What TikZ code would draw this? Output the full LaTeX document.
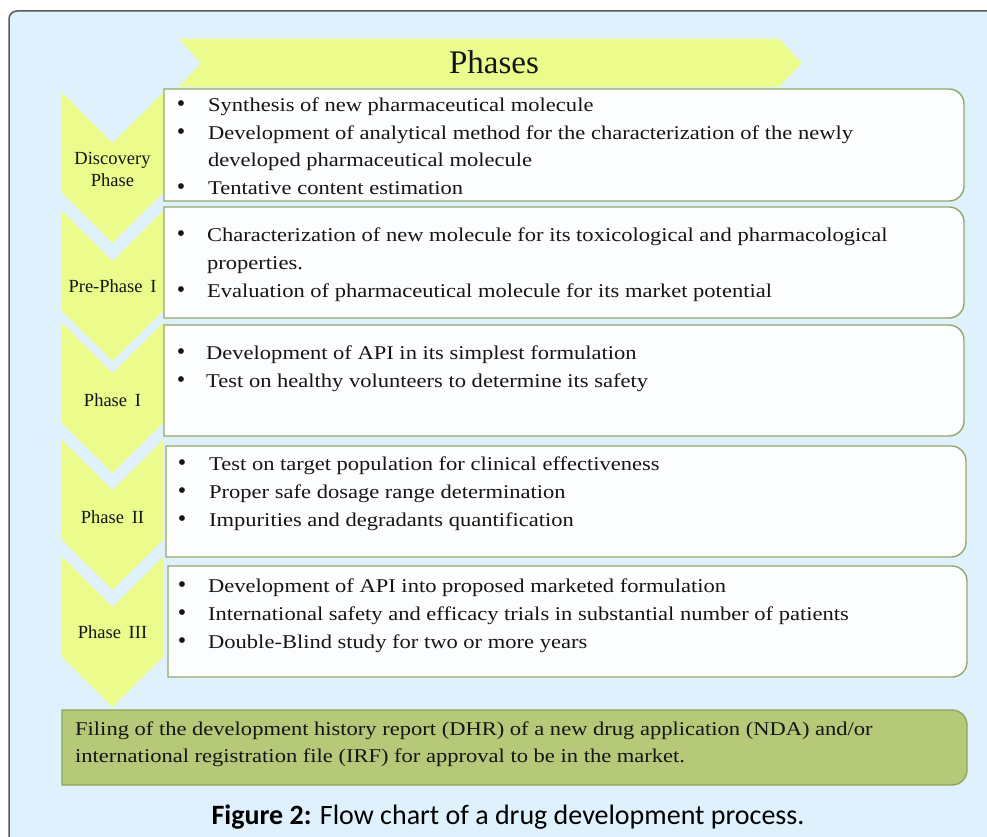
\documentclass[tikz,border=0pt]{standalone}
\usepackage{fontspec}
\setmainfont{Liberation Serif}
\newfontfamily\wideserif[FakeStretch=1.155]{Liberation Serif}
\newfontfamily\capfont{Carlito}
\definecolor{bgblue}{HTML}{DFF1FC}
\definecolor{chevy}{HTML}{EBFB8C}
\definecolor{boxline}{HTML}{93A866}
\definecolor{boxfill}{HTML}{FCFDFE}
\definecolor{finfill}{HTML}{B5C978}
\definecolor{finline}{HTML}{8FA45C}
\definecolor{framegray}{HTML}{5A5A5A}
\definecolor{inkc}{HTML}{151515}
\newcommand\myrbox[5]{\draw[#5] (#1,#2) -- ({#3-15},#2) arc[start angle=-90,end angle=0,radius=15] -- (#3,{#4-15}) arc[start angle=0,end angle=90,radius=15] -- (#1,#4) -- cycle;}
\newcommand\mychev[1]{\fill[chevy] (62,#1) -- (112.5,{#1+50}) -- (163,#1) -- (163,{#1+100}) -- (112.5,{#1+150}) -- (62,{#1+100}) -- cycle;}
\begin{document}
\begin{tikzpicture}[x=1pt,y=-1pt,
  txt/.style={anchor=base west,inner sep=0pt,text=inkc,font=\wideserif\fontsize{19.5}{23}\selectfont},
  lab/.style={anchor=base,inner sep=0pt,text=inkc,font=\fontsize{18.5}{22}\selectfont},
  bul/.style={anchor=base,inner sep=0pt,text=inkc,font=\fontsize{24}{26}\selectfont},
  wbox/.style={draw=boxline,fill=boxfill,line width=1.4pt},
  fbox/.style={draw=finline,fill=finfill,line width=1.4pt}]
\useasboundingbox (0,0) rectangle (987,837);
\clip (0,0) rectangle (987,837);
\fill[white] (0,0) rectangle (987,837);
\draw[framegray,fill=bgblue,line width=1.5pt,rounded corners=8] (9,11) rectangle (1010,860);
% banner
\fill[chevy] (179,39) -- (779,39) -- (802,63) -- (779,87) -- (179,87) -- (201,63) -- cycle;
\node[anchor=base,inner sep=0pt,text=inkc,font=\fontsize{33}{36}\selectfont] (phases) at (494,74) {Phases};
% chevrons
\mychev{93}
\mychev{211}
\mychev{323}
\mychev{440}
\mychev{557}
\node[lab] (c1a) at (112.5,165) {Discovery};
\node[lab] (c1b) at (112.5,186) {Phase};
\node[lab] (c2) at (112.5,292) {Pre-Phase\, I};
\node[lab] (c3) at (112.5,406) {Phase\, I};
\node[lab] (c4) at (112.5,523) {Phase\, II};
\node[lab] (c5) at (112.5,638) {Phase\, III};
% boxes
\myrbox{164}{89}{964}{201}{wbox}
\myrbox{164}{207}{964}{318}{wbox}
\myrbox{164}{325}{964}{436}{wbox}
\myrbox{166}{446}{966}{557}{wbox}
\myrbox{168}{566}{967}{677}{wbox}
\myrbox{62}{710}{967}{785}{fbox}
% box 1
\node[bul] (u11) at (181,111.7) {•};
\node[txt] (t11) at (208,111.7) {Synthesis of new pharmaceutical molecule};
\node[bul] (u12) at (181,139.5) {•};
\node[txt] (t12) at (208,139.5) {Development of analytical method for the characterization of the newly};
\node[txt] (t13) at (208,166.5) {developed pharmaceutical molecule};
\node[bul] (u14) at (181,194.5) {•};
\node[txt] (t14) at (208,194.5) {Tentative content estimation};
% box 2
\node[bul] (u21) at (181,241.5) {•};
\node[txt] (t21) at (207,241.5) {Characterization of new molecule for its toxicological and pharmacological};
\node[txt] (t22) at (207,269.2) {properties.};
\node[bul] (u23) at (181,297) {•};
\node[txt] (t23) at (207,297) {Evaluation of pharmaceutical molecule for its market potential};
% box 3
\node[bul] (u31) at (181,359.5) {•};
\node[txt] (t31) at (206,359.5) {Development of API in its simplest formulation};
\node[bul] (u32) at (181,387) {•};
\node[txt] (t32) at (206,387) {Test on healthy volunteers to determine its safety};
% box 4
\node[bul] (u41) at (182,470.5) {•};
\node[txt] (t41) at (209,470.5) {Test on target population for clinical effectiveness};
\node[bul] (u42) at (182,498) {•};
\node[txt] (t42) at (209,498) {Proper safe dosage range determination};
\node[bul] (u43) at (182,526) {•};
\node[txt] (t43) at (209,526) {Impurities and degradants quantification};
% box 5
\node[bul] (u51) at (182,592.5) {•};
\node[txt] (t51) at (208,592.5) {Development of API into proposed marketed formulation};
\node[bul] (u52) at (182,620) {•};
\node[txt] (t52) at (208,620) {International safety and efficacy trials in substantial number of patients};
\node[bul] (u53) at (182,648) {•};
\node[txt] (t53) at (208,648) {Double-Blind study for two or more years};
% final
\node[txt] (f1) at (75,735) {Filing of the development history report (DHR) of a new drug application (NDA) and/or};
\node[txt] (f2) at (75,762) {international registration file (IRF) for approval to be in the market.};
% caption
\node[anchor=base,inner sep=0pt,text=black,font=\capfont\fontsize{28}{32}\selectfont] (cap) at (508,824) {\textbf{Figure 2:} Flow chart of a drug development process.};
\end{tikzpicture}
\end{document}
